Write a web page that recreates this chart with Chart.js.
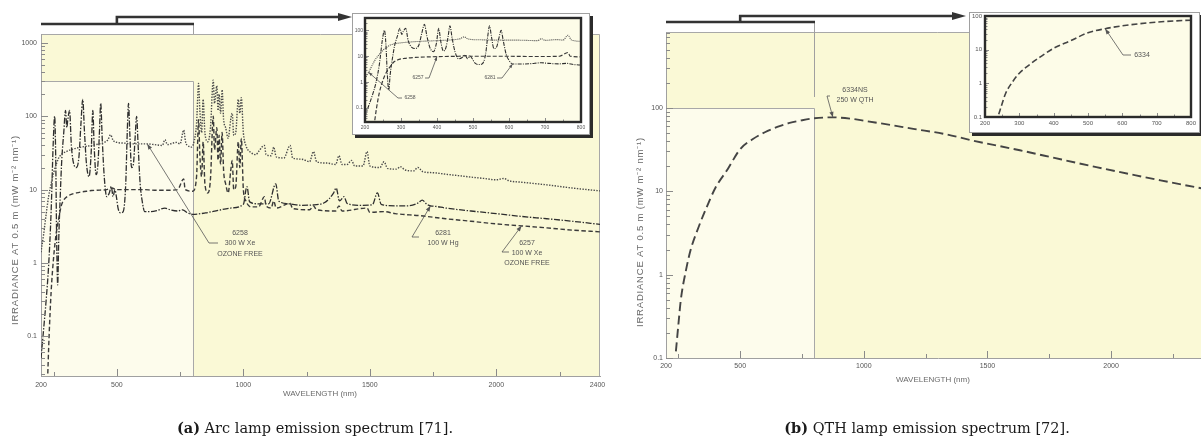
<!DOCTYPE html>
<html>
<head>
<meta charset="utf-8">
<title>Lamp emission spectra</title>
<script src="https://cdn.jsdelivr.net/npm/chart.js@4.4.1/dist/chart.umd.min.js"></script>
<style>
  html, body { margin: 0; padding: 0; width: 1201px; height: 437px; overflow: hidden; background: #fff; }
  canvas { position: absolute; }
  .inset { position: absolute; box-sizing: border-box; background: #fff; border: 1px solid #a0a0a0; box-shadow: 3px 3px 0 #2b2b2b; }
  .caption { position: absolute; top: 421px; width: 630px; text-align: center; font: 14.5px/14.5px "DejaVu Serif", serif; color: #1a1a1a; }
</style>
</head>
<body>
<canvas id="arcMain" width="610" height="437" style="left:0px;top:0px"></canvas>
<canvas id="qthMain" width="610" height="437" style="left:600px;top:0px"></canvas>
<div class="inset" style="left:352px;top:13px;width:238px;height:122px"></div>
<canvas id="arcInset" width="238" height="122" style="left:352px;top:13px"></canvas>
<div class="inset" style="left:969px;top:12px;width:231px;height:121px"></div>
<canvas id="qthInset" width="232" height="121" style="left:969px;top:12px"></canvas>
<div class="caption" style="left:0px"><b>(a)</b> Arc lamp emission spectrum [71].</div>
<div class="caption" style="left:612px"><b>(b)</b> QTH lamp emission spectrum [72].</div>
<script>
// values (wavelength in nm, irradiance in mW m-2 nm-1)

// 6281, 100 W Hg
const hgWl = [
  200, 210, 220, 230, 240, 248, 254, 258, 262, 266,
  270, 276, 282, 290, 297, 302, 306, 313, 320, 330,
  340, 350, 358, 365, 372, 380, 390, 398, 405, 410,
  418, 425, 431, 436, 442, 450, 460, 470, 478, 485,
  492, 498, 505, 515, 525, 535, 541, 546, 551, 558,
  565, 572, 578, 584, 592, 600, 610, 630, 660, 690,
  710, 740, 760, 780, 800, 850, 900, 950, 1000, 1014,
  1025, 1060, 1100, 1128, 1140, 1180, 1230, 1280, 1320, 1357,
  1367, 1380, 1398, 1410, 1460, 1510, 1530, 1545, 1600, 1650,
  1692, 1707, 1725, 1740, 1760, 1800, 1900, 2000, 2100, 2200,
  2300, 2410];
const hgVal = [
  0.05, 0.12, 0.3, 0.9, 5, 40, 100, 30, 2, 0.5,
  2, 8, 25, 60, 120, 70, 90, 120, 40, 22,
  20, 28, 80, 170, 60, 22, 15, 30, 120, 40,
  16, 22, 60, 150, 50, 15, 8, 9, 11, 8,
  10, 8, 5.5, 4.8, 5, 12, 60, 150, 60, 20,
  22, 50, 100, 40, 12, 7, 5, 5, 5.2, 5.6,
  5.3, 5.1, 5.3, 4.8, 4.6, 4.8, 5.2, 5.6, 6.3, 11,
  6.8, 6.4, 6.4, 12, 7, 6.4, 6.1, 6.2, 6.6, 9,
  10.5, 7, 8, 6.5, 6.1, 6.2, 9, 6.3, 6.0, 6.0,
  6.6, 7.2, 6.3, 6.0, 5.9, 5.6, 5.1, 4.7, 4.3, 4.0,
  3.7, 3.35];

// 6258, 300 W Xe ozone free
const xe300Wl = [
  200, 210, 220, 230, 240, 250, 260, 270, 280, 300,
  330, 360, 400, 430, 450, 465, 475, 485, 500, 530,
  560, 600, 620, 650, 680, 690, 700, 720, 735, 750,
  764, 772, 780, 795, 805, 815, 823, 828, 835, 841,
  848, 860, 870, 881, 886, 895, 900, 904, 910, 916,
  922, 930, 940, 950, 956, 962, 970, 980, 986, 992,
  1000, 1010, 1030, 1050, 1060, 1083, 1090, 1110, 1120, 1130,
  1160, 1185, 1195, 1230, 1262, 1277, 1290, 1330, 1365, 1378,
  1390, 1410, 1428, 1440, 1473, 1489, 1500, 1540, 1556, 1570,
  1605, 1621, 1640, 1673, 1690, 1710, 1750, 1800, 1850, 1900,
  1950, 2000, 2030, 2050, 2100, 2200, 2300, 2410];
const xe300Val = [
  1.4, 2.4, 4.5, 8, 12, 17, 22, 27, 30, 33,
  36, 38, 40, 42, 44, 48, 56, 47, 44, 43,
  42, 42, 42, 41, 40, 48, 41, 43, 44, 42,
  65, 44, 40, 38, 45, 80, 280, 120, 60, 170,
  60, 45, 70, 310, 150, 260, 120, 200, 110, 230,
  90, 70, 50, 90, 110, 55, 60, 170, 110, 180,
  60, 40, 32, 30, 33, 40, 30, 29, 38, 28,
  27, 40, 27, 26, 24, 33, 24, 23, 22, 29,
  22, 22, 25, 21, 21, 33, 21, 20, 24, 19.5,
  19, 20.5, 18.5, 18, 20, 17.5, 17, 16.2, 15.5, 14.8,
  14.2, 13.6, 14.2, 13.2, 12.6, 11.6, 10.5, 9.6];

// 6257, 100 W Xe ozone free
const xe100Wl = [
  225, 232, 240, 250, 260, 270, 280, 290, 310, 340,
  380, 400, 420, 460, 480, 500, 550, 600, 650, 700,
  740, 764, 770, 800, 815, 823, 828, 835, 841, 848,
  860, 870, 881, 886, 895, 900, 904, 910, 916, 922,
  930, 940, 950, 956, 962, 970, 980, 986, 992, 1000,
  1010, 1030, 1060, 1083, 1090, 1110, 1120, 1130, 1185, 1195,
  1262, 1277, 1290, 1365, 1378, 1390, 1489, 1500, 1556, 1600,
  1700, 1800, 1900, 2000, 2100, 2200, 2300, 2410];
const xe100Val = [
  0.02, 0.1, 0.4, 1.2, 2.5, 4, 6, 7.2, 8.3, 9,
  9.5, 9.7, 9.8, 10, 10.5, 10, 10, 10, 9.8, 9.8,
  10, 14, 10, 9.5, 15, 90, 30, 15, 45, 12,
  9, 14, 100, 35, 70, 25, 55, 22, 60, 18,
  12, 9, 18, 25, 10, 11, 45, 20, 50, 10,
  7, 5.8, 5.8, 8, 6, 5.6, 7, 5.6, 6.5, 5.5,
  5.3, 6, 5.3, 5.1, 6, 5.1, 5.6, 4.9, 5, 4.7,
  4.4, 4.0, 3.7, 3.4, 3.2, 3.0, 2.8, 2.65];

// 6334NS, 250 W QTH
const qthWl = [
  240, 250, 260, 280, 300, 330, 360, 400, 450, 500,
  550, 600, 650, 700, 750, 800, 875, 950, 1015, 1100,
  1200, 1321, 1450, 1631, 1800, 1940, 2100, 2200, 2341, 2400];
const qthVal = [
  0.12, 0.25, 0.5, 1.1, 2.0, 3.6, 6, 11, 18.5, 32,
  42, 51, 59, 66, 71, 75, 77, 74, 69, 63,
  56, 49, 40, 31, 24, 19.5, 15.5, 13.5, 11.2, 10.4];

const wlTicks = [200, 500, 1000, 1500, 2000, 2400];
const insetWlTicks = [200, 300, 400, 500, 600, 700, 800];
const arcIrrTicks = [0.1, 1, 10, 100, 1000];
const qthIrrTicks = [0.1, 1, 10, 100];

const FONT = '"Liberation Sans", Arial, sans-serif';
const yTitle = 'IRRADIANCE AT 0.5 m (mW m\u207B\u00B2 nm\u207B\u00B9)';
Chart.defaults.font.family = FONT;

function pts(wl, val) {
  return wl.map((w, i) => ({ x: w, y: val[i] }));
}
function valueAt(wl, val, w) {
  return val[wl.indexOf(w)];
}
function series(wl, val, dash, width, color) {
  return {
    data: pts(wl, val), showLine: true, pointRadius: 0, fill: false,
    borderColor: color, borderWidth: width, borderDash: dash,
    cubicInterpolationMode: 'monotone'
  };
}
function logMinor(min, max) {
  const out = [];
  for (let e = Math.floor(Math.log10(min)); e <= Math.ceil(Math.log10(max)); e++) {
    for (let k = 2; k <= 9; k++) {
      const v = k * Math.pow(10, e);
      if (v > min && v < max) out.push(v);
    }
  }
  return out;
}

function arrowHead(ctx, fx, fy, tx, ty, len, half) {
  const a = Math.atan2(ty - fy, tx - fx);
  const bx = tx - len * Math.cos(a), by = ty - len * Math.sin(a);
  ctx.beginPath();
  ctx.moveTo(tx, ty);
  ctx.lineTo(bx + half * Math.sin(a), by - half * Math.cos(a));
  ctx.lineTo(bx - half * Math.sin(a), by + half * Math.cos(a));
  ctx.closePath();
  ctx.fill();
}

// background, inward ticks, frames, leaders and titles
function decor(c) {
  return {
    id: 'decor',
    beforeDraw(chart) {
      const { ctx, chartArea: a, scales: { x, y } } = chart;
      ctx.save();
      ctx.fillStyle = c.bg;
      ctx.fillRect(a.left, a.top, a.right - a.left, a.bottom - a.top);
      if (c.zoomBox) {
        const x0 = x.getPixelForValue(c.zoomBox[0]);
        const x1 = Math.round(x.getPixelForValue(c.zoomBox[1])) + 0.5;
        const y1 = Math.round(y.getPixelForValue(c.zoomBox[2])) + 0.5;
        ctx.fillStyle = '#fdfcec';
        ctx.fillRect(x0, y1, x1 - x0, a.bottom - y1);
        ctx.strokeStyle = '#a8a8a8';
        ctx.lineWidth = 1;
        ctx.beginPath();
        ctx.moveTo(x0, y1); ctx.lineTo(x1, y1); ctx.lineTo(x1, a.bottom);
        ctx.moveTo(a.left, a.top + 0.5); ctx.lineTo(a.right - 0.5, a.top + 0.5); ctx.lineTo(a.right - 0.5, a.bottom);
        ctx.stroke();
      }
      ctx.restore();
    },
    afterDraw(chart) {
      const { ctx, chartArea: a, scales: { x, y } } = chart;
      ctx.save();
      // ticks pointing into the plot
      ctx.strokeStyle = '#8a8a8a';
      ctx.lineWidth = 1;
      ctx.beginPath();
      const xt = (list, len) => list.forEach(v => {
        const p = Math.round(x.getPixelForValue(v)) + 0.5;
        ctx.moveTo(p, a.bottom); ctx.lineTo(p, a.bottom - len);
      });
      const yt = (list, len) => list.forEach(v => {
        const p = Math.round(y.getPixelForValue(v)) + 0.5;
        ctx.moveTo(a.left, p); ctx.lineTo(a.left + len, p);
      });
      xt(c.xMajor, c.tick[0]);
      xt(c.xMinor, c.tick[1]);
      yt(c.yTicks, c.tick[0]);
      yt(logMinor(y.min, y.max), c.tick[1]);
      ctx.stroke();

      if (c.frame) {
        ctx.strokeStyle = '#2b2b2b';
        ctx.lineWidth = c.frame;
        ctx.strokeRect(a.left, a.top, a.right - a.left, a.bottom - a.top);
      }

      if (c.bracket) {
        const b = c.bracket;
        const x0 = x.getPixelForValue(200), x5 = x.getPixelForValue(500);
        const x8 = Math.round(x.getPixelForValue(800)) + 0.5;
        ctx.strokeStyle = '#a0a0a0';
        ctx.lineWidth = 1;
        ctx.beginPath(); ctx.moveTo(x8, b.low); ctx.lineTo(x8, b.drop); ctx.stroke();
        ctx.strokeStyle = '#333';
        ctx.fillStyle = '#333';
        ctx.lineWidth = 2.6;
        ctx.beginPath(); ctx.moveTo(x0, b.low); ctx.lineTo(x8 + 0.5, b.low); ctx.stroke();
        ctx.beginPath(); ctx.moveTo(x5, b.low + 1); ctx.lineTo(x5, b.high); ctx.lineTo(b.tip - 10, b.high); ctx.stroke();
        arrowHead(ctx, b.tip - 20, b.high, b.tip, b.high, 14, 4);
      }

      ctx.font = c.noteSize + 'px ' + FONT;
      ctx.textAlign = 'center';
      ctx.textBaseline = 'middle';
      (c.notes || []).forEach(n => {
        const tx = x.getPixelForValue(n.at[0]), ty = y.getPixelForValue(n.at[1]);
        ctx.strokeStyle = '#555';
        ctx.fillStyle = '#555';
        ctx.lineWidth = 0.8;
        ctx.beginPath();
        ctx.moveTo(n.path[0][0], n.path[0][1]);
        n.path.slice(1).forEach(p => ctx.lineTo(p[0], p[1]));
        ctx.lineTo(tx, ty);
        ctx.stroke();
        const last = n.path[n.path.length - 1];
        arrowHead(ctx, last[0], last[1], tx, ty, c.noteSize * 0.8, c.noteSize * 0.3);
        n.lines.forEach((t, i) => ctx.fillText(t, n.tx, n.ty[i]));
      });

      if (c.titles) {
        ctx.fillStyle = '#6a6a6a';
        ctx.font = '8px ' + FONT;
        ctx.fillText('WAVELENGTH (nm)', c.titles.x[0], c.titles.x[1]);
        ctx.font = '9.5px ' + FONT;
        ctx.letterSpacing = '0.8px';
        ctx.translate(c.titles.y[0], c.titles.y[1]);
        ctx.rotate(-Math.PI / 2);
        ctx.fillText(yTitle, 0, 0);
      }
      ctx.restore();
    }
  };
}

function makeChart(id, c) {
  const tickFont = { family: FONT, size: c.tickSize };
  return new Chart(document.getElementById(id), {
    type: 'scatter',
    data: { datasets: c.datasets },
    options: {
      responsive: false,
      animation: false,
      devicePixelRatio: 1,
      layout: { padding: c.padding },
      plugins: { legend: { display: false }, tooltip: { enabled: false } },
      scales: {
        x: {
          type: 'linear', min: c.xMin, max: c.xMax, bounds: 'data',
          afterBuildTicks: s => { s.ticks = c.xTicks.map(v => ({ value: v })); },
          afterFit: s => { s.height = c.xAxisH; s.paddingLeft = s.paddingRight = s.paddingTop = s.paddingBottom = 0; },
          grid: { drawOnChartArea: false, drawTicks: false },
          border: { color: '#a0a0a0' },
          ticks: { autoSkip: false, maxRotation: 0, padding: c.xPad, color: '#555', font: tickFont, callback: v => String(v) }
        },
        y: {
          type: 'logarithmic', min: c.yMin, max: c.yMax, bounds: 'data',
          afterBuildTicks: s => { s.ticks = c.yTicks.map(v => ({ value: v })); },
          afterFit: s => { s.width = c.yAxisW; s.paddingLeft = s.paddingRight = s.paddingTop = s.paddingBottom = 0; },
          grid: { drawOnChartArea: false, drawTicks: false },
          border: { color: '#a0a0a0' },
          ticks: { autoSkip: false, padding: c.yPad, color: '#555', font: tickFont, callback: v => String(v) }
        }
      }
    },
    plugins: [decor(c)]
  });
}

// (a) arc lamps
makeChart('arcMain', {
  datasets: [
    series(xe300Wl, xe300Val, [1.4, 1.4], 1.4, '#4a4a4a'),
    series(xe100Wl, xe100Val, [4.5, 2.5], 1.4, '#3a3a3a'),
    series(hgWl, hgVal, [6, 1.6, 1.4, 1.6], 1.3, '#2e2e2e')
  ],
  padding: { top: 34, right: 10, left: 0, bottom: 0 },
  xMin: 200, xMax: 2410, xTicks: wlTicks, xAxisH: 61, xPad: 4.5,
  yMin: 0.0286, yMax: 1327, yTicks: arcIrrTicks, yAxisW: 41, yPad: 4,
  tickSize: 7, tick: [7, 4],
  xMajor: [500, 1000, 1500, 2000], xMinor: [250, 750, 1250, 1750, 2250],
  bg: '#faf9d6', zoomBox: [200, 800, 300],
  bracket: { low: 24, high: 17, tip: 352, drop: 34 },
  noteSize: 7,
  notes: [
    { at: [620, valueAt(xe300Wl, xe300Val, 620)], path: [[218, 243], [209, 243]],
      lines: ['6258', '300 W Xe', 'OZONE FREE'], tx: 240, ty: [233, 243, 254] },
    { at: [1740, valueAt(hgWl, hgVal, 1740)], path: [[419, 237], [412, 237]],
      lines: ['6281', '100 W Hg'], tx: 443, ty: [233, 243] },
    { at: [2100, valueAt(xe100Wl, xe100Val, 2100)], path: [[509, 252], [502, 252]],
      lines: ['6257', '100 W Xe', 'OZONE FREE'], tx: 527, ty: [243, 253, 263] }
  ],
  titles: { x: [320, 394], y: [15, 230] }
});

makeChart('arcInset', {
  datasets: [
    series(xe300Wl, xe300Val, [1, 1], 1.1, '#4a4a4a'),
    series(xe100Wl, xe100Val, [4, 2], 1.2, '#3a3a3a'),
    series(hgWl, hgVal, [4, 1.2, 1, 1.2], 1.1, '#2e2e2e')
  ],
  padding: { top: 5, right: 9, left: 0, bottom: 0 },
  xMin: 200, xMax: 800, xTicks: insetWlTicks, xAxisH: 13, xPad: 3,
  yMin: 0.029, yMax: 300, yTicks: qthIrrTicks, yAxisW: 13, yPad: 2,
  tickSize: 5, tick: [4, 2.5],
  xMajor: [300, 400, 500, 600, 700], xMinor: [250, 350, 450, 550, 650, 750],
  bg: '#fdfce8', frame: 2.4,
  noteSize: 5,
  notes: [
    { at: [400, valueAt(xe100Wl, xe100Val, 400)], path: [[73, 65], [77, 65]],
      lines: ['6257'], tx: 66, ty: [65] },
    { at: [610, valueAt(hgWl, hgVal, 610)], path: [[145, 65], [150, 65]],
      lines: ['6281'], tx: 138, ty: [65] },
    { at: [210, valueAt(xe300Wl, xe300Val, 210)], path: [[50, 85], [46, 85]],
      lines: ['6258'], tx: 58, ty: [85] }
  ]
});

// (b) QTH lamp
makeChart('qthMain', {
  datasets: [series(qthWl, qthVal, [9, 4.5], 1.9, '#444')],
  padding: { top: 32, right: 0, left: 0, bottom: 0 },
  xMin: 200, xMax: 2400, xTicks: wlTicks, xAxisH: 79, xPad: 3.5,
  yMin: 0.1, yMax: 813, yTicks: qthIrrTicks, yAxisW: 66, yPad: 3,
  tickSize: 7, tick: [7, 4],
  xMajor: [500, 1000, 1500, 2000], xMinor: [250, 750, 1250, 1750, 2250],
  bg: '#faf9d6', zoomBox: [200, 800, 100],
  bracket: { low: 22, high: 16, tip: 366, drop: 97 },
  noteSize: 7,
  notes: [
    { at: [875, valueAt(qthWl, qthVal, 875)], path: [[230, 96], [227, 96]],
      lines: ['6334NS', '250 W QTH'], tx: 255, ty: [90, 100] }
  ],
  titles: { x: [333, 380], y: [40, 232] }
});

makeChart('qthInset', {
  datasets: [series(qthWl, qthVal, [6, 3], 1.6, '#444')],
  padding: { top: 4, right: 10, left: 0, bottom: 0 },
  xMin: 200, xMax: 800, xTicks: insetWlTicks, xAxisH: 16, xPad: 3,
  yMin: 0.1, yMax: 100, yTicks: qthIrrTicks, yAxisW: 16, yPad: 3,
  tickSize: 6, tick: [4, 2.5],
  xMajor: [300, 400, 500, 600, 700], xMinor: [250, 350, 450, 550, 650, 750],
  bg: '#fdfce8', frame: 2.4,
  noteSize: 7,
  notes: [
    { at: [550, valueAt(qthWl, qthVal, 550)], path: [[162, 43], [154, 43]],
      lines: ['6334'], tx: 173, ty: [43] }
  ]
});
</script>
</body>
</html>
